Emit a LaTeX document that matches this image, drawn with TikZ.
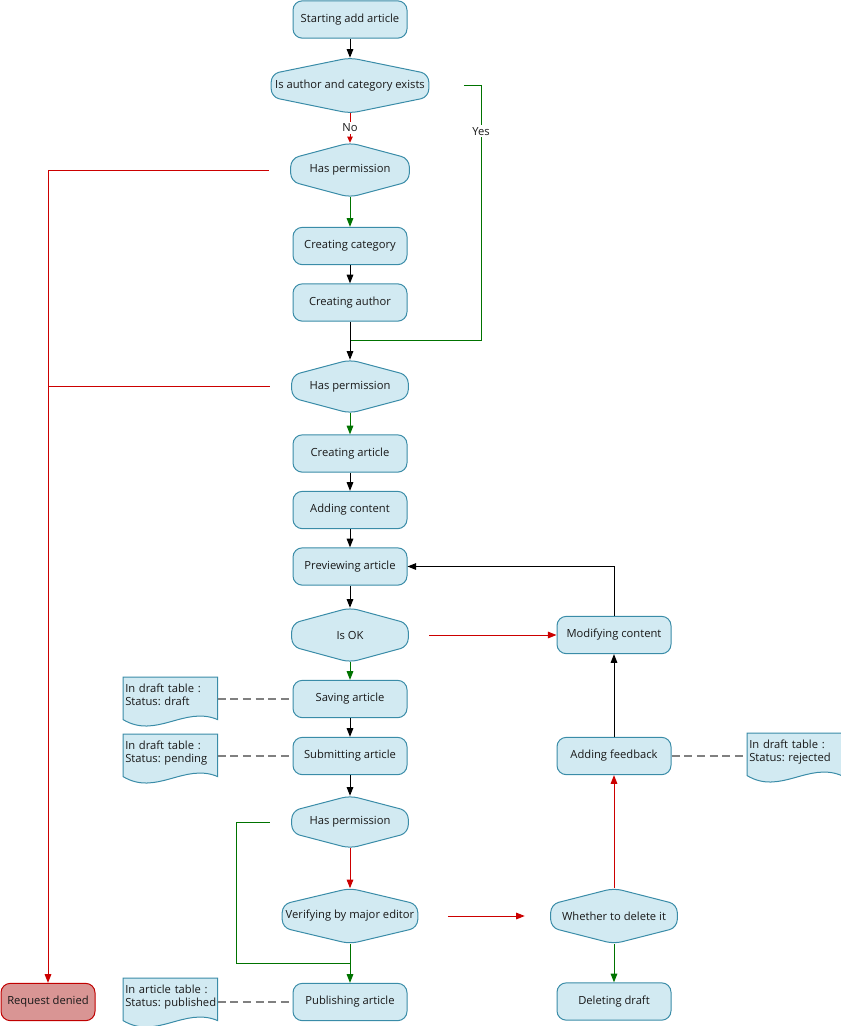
\documentclass[tikz,border=0pt]{standalone}
\usepackage{fontspec}
\setmainfont{Open Sans}
\usetikzlibrary{arrows.meta,calc,backgrounds}
\definecolor{boxfill}{RGB}{210,234,242}
\definecolor{boxline}{RGB}{58,140,168}
\definecolor{myred}{RGB}{204,0,0}
\definecolor{mygreen}{RGB}{0,115,0}
\definecolor{denyfill}{RGB}{217,149,148}
\definecolor{denyline}{RGB}{192,0,0}
\definecolor{dashgray}{RGB}{128,128,128}
\definecolor{txt}{RGB}{25,25,25}
\newcommand\decshape[1]{%
  \begin{scope}[on background layer]
  \draw[decline] (#1.north) -- ($(#1.west)!0.42!(#1.north west)$) -- ($(#1.west)!0.42!(#1.south west)$) -- (#1.south) -- ($(#1.east)!0.42!(#1.south east)$) -- ($(#1.east)!0.42!(#1.north east)$) -- cycle;
  \end{scope}}
\newcommand\docshape[1]{%
  \begin{scope}[on background layer]
  \draw[docline] (#1.south west) -- (#1.north west) -- (#1.north east) -- (#1.south east) .. controls ([shift={(-33,-14)}]#1.south east) and ([shift={(33,20)}]#1.south west) .. (#1.south west) -- cycle;
  \end{scope}}
\begin{document}
\frenchspacing
\begin{tikzpicture}[x=0.75pt,y=-0.75pt, font=\fontsize{8.4}{9.75}\selectfont\frenchspacing,
 every node/.style={inner sep=0pt, text=txt},
 proc/.style={draw=boxline, fill=boxfill, line width=0.75pt, rounded corners=7pt, minimum width=85.5pt, minimum height=28pt},
 deny/.style={proc, draw=denyline, fill=denyfill, minimum width=70.5pt},
 dec/.style 2 args={minimum width=#1*1.5pt, minimum height=#2*1.5pt},
 decline/.style={draw=boxline, fill=boxfill, line width=0.75pt, rounded corners=6pt},
 docnode/.style={anchor=north west, minimum width=70.5pt, minimum height=31.5pt, text width=67.5pt, inner xsep=1.5pt, align=left},
 docline/.style={draw=boxline, fill=boxfill, line width=0.75pt},
 tip/.style={-{Triangle[length=6.5pt,width=5pt]}},
 blk/.style={draw=black, line width=0.75pt, tip},
 grn/.style={draw=mygreen, line width=0.75pt, tip},
 grnl/.style={draw=mygreen, line width=0.75pt},
 rd/.style={draw=myred, line width=0.75pt, tip},
 rdl/.style={draw=myred, line width=0.75pt},
 dsh/.style={draw=dashgray, line width=1.1pt, dash pattern=on 6pt off 3.5pt},
 lbl/.style={fill=white, inner sep=1.5pt}
]
\useasboundingbox (0,0) rectangle (841,1026);
% process nodes
\node[proc] (start) at (350,19.5) {Starting add article};
\node[dec={78.5}{27.5}] (isauth) at (350,85.5) {Is author and category exists}; \decshape{isauth}
\node[dec={59}{27}] (perm1) at (350,170) {Has permission}; \decshape{perm1}
\node[proc] (cat) at (350,246) {Creating category};
\node[proc] (auth) at (350,302.5) {Creating author};
\node[dec={58}{26.5}] (perm2) at (350,386.5) {Has permission}; \decshape{perm2}
\node[proc] (art) at (350,453.5) {Creating article};
\node[proc] (cont) at (350,510) {Adding content};
\node[proc] (prev) at (350,566.5) {Previewing article};
\node[dec={58}{27}] (isok) at (350,635) {Is OK}; \decshape{isok}
\node[proc] (save) at (350,699) {Saving article};
\node[proc] (sub) at (350,756) {Submitting article};
\node[dec={58}{26}] (perm3) at (350,822) {Has permission}; \decshape{perm3}
\node[dec={67.5}{27.5}] (ver) at (350,916) {Verifying by major editor}; \decshape{ver}
\node[proc] (pub) at (350,1002) {Publishing article};
\node[deny] (deny) at (48,1002) {Request denied};
\node[proc] (mod) at (614,635) {Modifying content};
\node[proc] (fb) at (614,756) {Adding feedback};
\node[dec={63}{27.5}] (whe) at (614,916) {Whether to delete it}; \decshape{whe}
\node[proc] (del) at (614,1001.5) {Deleting draft};
% documents
\node[docnode] (d1) at (123,677) {In draft table :\\Status:~draft\rule[-5pt]{0pt}{5pt}}; \docshape{d1}
\node[docnode] (d2) at (123,734) {In draft table :\\Status:~pending\rule[-5pt]{0pt}{5pt}}; \docshape{d2}
\node[docnode] (d3) at (747,733) {In draft table :\\Status:~rejected\rule[-5pt]{0pt}{5pt}}; \docshape{d3}
\node[docnode] (d4) at (123,978) {In article table :\\Status:~published\rule[-5pt]{0pt}{5pt}}; \docshape{d4}
% helper coordinates
\coordinate (yesr) at (481,340);
\coordinate (yesj) at (350,340);
\coordinate (gl) at (236,963);
\coordinate (gj) at (350,963);
% connectors
\draw[blk] (start.south) -- (isauth.north);
\draw[rdl, -{Triangle[length=4.5pt,width=4pt]}] (isauth.south) -- node[lbl]{No} (perm1.north);
\draw[grnl] ($(isauth.east)+(35,0)$) -| node[lbl,pos=0.59]{Yes} (yesr) -- (yesj);
\draw[grn] (perm1.south) -- (cat.north);
\draw[blk] (cat.south) -- (auth.north);
\draw[blk] (auth.south) -- (perm2.north);
\draw[rd] ($(perm1.west)+(-22,0)$) -| (deny.north);
\draw[rdl] ($(perm2.west)+(-22,0)$) -- (perm2.west -| deny.north);
\draw[grn] (perm2.south) -- (art.north);
\draw[blk] (art.south) -- (cont.north);
\draw[blk] (cont.south) -- (prev.north);
\draw[blk] (prev.south) -- (isok.north);
\draw[grn] (isok.south) -- (save.north);
\draw[rd] ($(isok.east)+(21,0)$) -- (mod.west);
\draw[blk] (mod.north) |- (prev.east);
\draw[blk] (save.south) -- (sub.north);
\draw[blk] (sub.south) -- (perm3.north);
\draw[rd] (perm3.south) -- (ver.north);
\draw[grnl] ($(perm3.west)+(-22,0)$) -| (gl) -- (gj);
\draw[grn] (ver.south) -- (pub.north);
\draw[rd] ($(ver.east)+(30,0)$) -- ($(whe.west)+(-26,0)$);
\draw[rd] (whe.north) -- (fb.south);
\draw[blk] (fb.north) -- (mod.south);
\draw[grn] (whe.south) -- (del.north);
\draw[dsh] (d1.east |- save.west) -- (save.west);
\draw[dsh] (d2.east |- sub.west) -- (sub.west);
\draw[dsh] (d4.east |- pub.west) -- (pub.west);
\draw[dsh] (fb.east) -- (fb.east -| d3.west);
\end{tikzpicture}
\end{document}
